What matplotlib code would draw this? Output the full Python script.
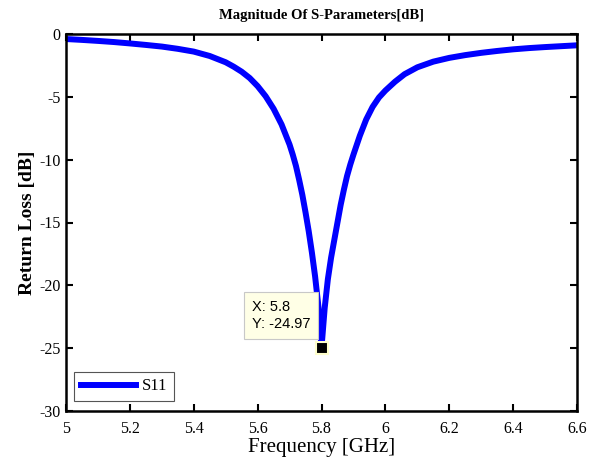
import matplotlib
matplotlib.use("Agg")
import matplotlib.pyplot as plt

freq = [5.0, 5.05, 5.1, 5.15, 5.2, 5.25, 5.3, 5.35, 5.4, 5.45, 5.5, 5.525, 5.55,
        5.575, 5.6, 5.625, 5.65, 5.675, 5.7, 5.71, 5.72, 5.73, 5.74, 5.75, 5.76,
        5.77, 5.78, 5.79, 5.8, 5.81, 5.82, 5.83, 5.84, 5.85, 5.86, 5.87, 5.88,
        5.89, 5.9, 5.92, 5.94, 5.96, 5.98, 6.0, 6.03, 6.06, 6.1, 6.15, 6.2,
        6.25, 6.3, 6.35, 6.4, 6.45, 6.5, 6.55, 6.6]
s11 = [-0.40, -0.47, -0.55, -0.64, -0.75, -0.87, -1.0, -1.18, -1.4, -1.75, -2.25, -2.6, -3.0,
       -3.5, -4.15, -4.95, -5.95, -7.2, -8.8, -9.6, -10.5, -11.6, -12.8, -14.2, -15.7,
       -17.4, -19.3, -21.6, -24.97, -21.8, -19.5, -17.8, -16.4, -15.0, -13.6, -12.4, -11.3,
       -10.4, -9.6, -8.1, -6.8, -5.8, -5.05, -4.5, -3.8, -3.2, -2.65, -2.2, -1.9,
       -1.68, -1.5, -1.35, -1.22, -1.12, -1.04, -0.97, -0.9]
tip_x, tip_y = 5.8, -24.97
xticks = [5, 5.2, 5.4, 5.6, 5.8, 6, 6.2, 6.4, 6.6]
xtick_labels = ["5", "5.2", "5.4", "5.6", "5.8", "6", "6.2", "6.4", "6.6"]
yticks = [-30, -25, -20, -15, -10, -5, 0]

serif = ["Liberation Serif", "DejaVu Serif"]
sans = ["Liberation Sans", "DejaVu Sans"]

fig = plt.figure(figsize=(5.97, 4.59), dpi=100)
ax = fig.add_axes([66/597, 1 - 411/459, (577-66)/597, (411-34)/459])

ax.plot(freq, s11, color="#0000ff", lw=4.3, solid_joinstyle="round", label="S11")
ax.plot([tip_x], [tip_y], marker="s", ms=8, mfc="black", mec="#ffffcc", mew=1.5,
        linestyle="none")
ax.annotate(f"X: {tip_x}\nY: {tip_y}", xy=(tip_x, tip_y), xytext=(-8, 12),
            textcoords="offset points", ha="right", va="bottom", multialignment="left",
            family=sans, fontsize=10.5, linespacing=1.3,
            bbox=dict(boxstyle="square,pad=0.55", fc="#ffffe6", ec="#c8c8c8", lw=0.8))

ax.set_xlim(5, 6.6)
ax.set_ylim(-30, 0)
ax.set_xticks(xticks)
ax.set_xticklabels(xtick_labels)
ax.set_yticks(yticks)
ax.set_yticklabels([str(v) for v in yticks])
ax.tick_params(direction="in", length=5, width=1.5, top=True, right=True,
               labelsize=11.5)
ax.tick_params(axis="x", pad=7)
ax.tick_params(axis="y", pad=4)
for lab in ax.get_xticklabels() + ax.get_yticklabels():
    lab.set_family(serif)
for sp in ax.spines.values():
    sp.set_linewidth(1.8)

ax.set_title("Magnitude Of S-Parameters[dB]", family=serif, fontweight="bold",
             fontsize=10.5, pad=11)
ax.set_xlabel("Frequency [GHz]", family=serif, fontsize=15, labelpad=1)
ax.set_ylabel("Return Loss [dB]", family=serif, fontweight="bold", fontsize=14, labelpad=2)

leg = ax.legend(loc="lower left", bbox_to_anchor=(0.0, 0.004),
                prop={"family": serif, "size": 12},
                fancybox=False, edgecolor="#555555", framealpha=1, handlelength=3.3,
                borderpad=0.4, handletextpad=0.35, borderaxespad=0.5)
leg.get_frame().set_linewidth(0.8)

fig.savefig("out.png", dpi=100)
